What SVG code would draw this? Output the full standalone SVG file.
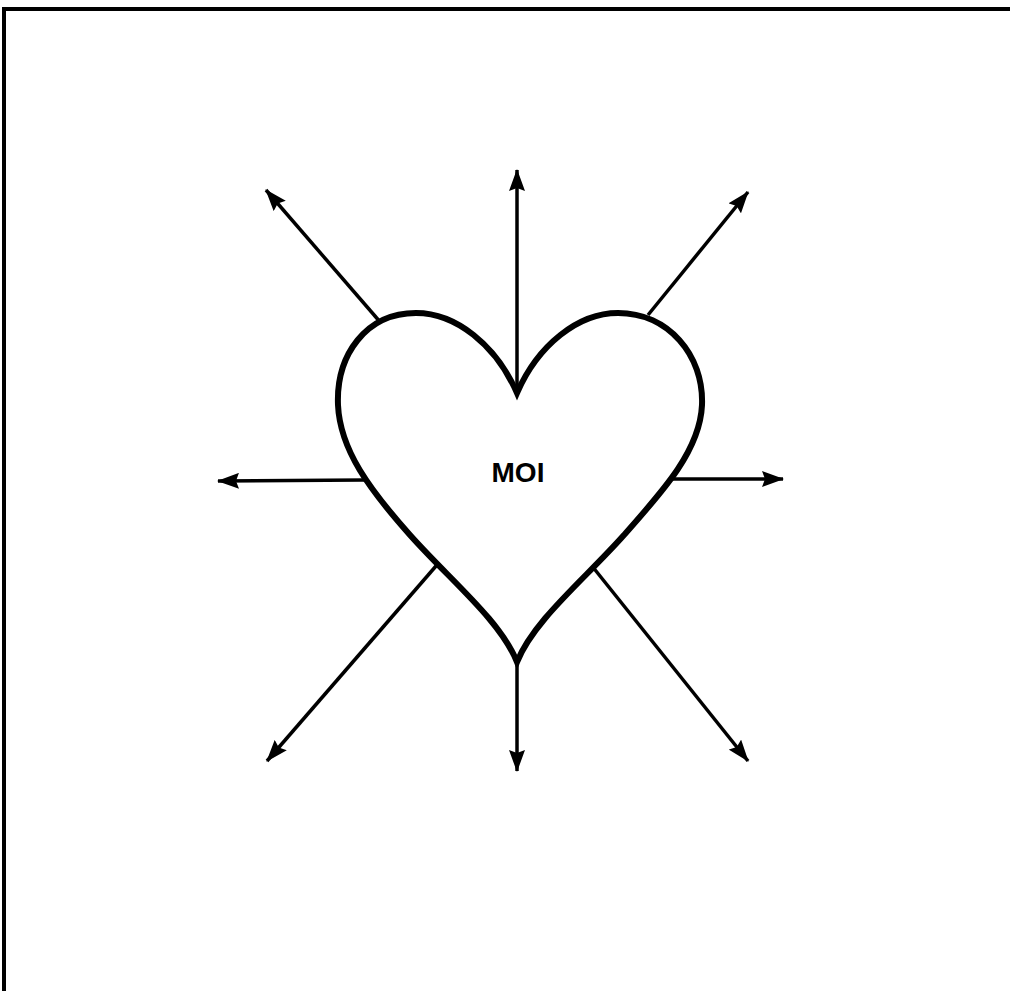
<svg xmlns="http://www.w3.org/2000/svg" width="1010" height="991" viewBox="0 0 1010 991">
<style>
.frame{fill:none;stroke:#000;stroke-width:4}
.heart{fill:#fff;stroke:#000;stroke-width:6;stroke-linejoin:miter}
.arr{stroke:#000;stroke-width:3.5;fill:none}
.lbl{font-family:"Liberation Sans",Arial,sans-serif;font-weight:bold;font-size:28px;fill:#000}
</style>
<defs>
<marker id="ah" viewBox="0 0 22 16" refX="21" refY="8" markerWidth="22" markerHeight="16" markerUnits="userSpaceOnUse" orient="auto">
<path d="M0,0 L22,8 L0,16 L3,8 Z" fill="#000"/>
</marker>
</defs>
<rect width="1010" height="991" fill="#fff"/>
<path class="frame" d="M4,991 L4,9 L1010,9"/>
<g id="connectors">
<line class="arr" x1="517" y1="393" x2="517" y2="170" marker-end="url(#ah)"/>
<line class="arr" x1="381" y1="323" x2="266" y2="190" marker-end="url(#ah)"/>
<line class="arr" x1="648" y1="315" x2="748" y2="192" marker-end="url(#ah)"/>
<line class="arr" x1="364" y1="480" x2="218" y2="481" marker-end="url(#ah)"/>
<line class="arr" x1="672" y1="479" x2="783" y2="479" marker-end="url(#ah)"/>
<line class="arr" x1="517" y1="662" x2="517" y2="771" marker-end="url(#ah)"/>
<line class="arr" x1="592" y1="566" x2="748" y2="761" marker-end="url(#ah)"/>
<line class="arr" x1="436" y1="566" x2="267" y2="761" marker-end="url(#ah)"/>
</g>
<g id="heart">
<path class="heart" d="M517,393 C496,345 456,313 416,313 C366,313 336,355 338,405 C340,450 370,490 410,535 C450,580 500,620 517,662 C534,620 584,580 624,535 C664,490 700,450 702,405 C704,355 668,313 618,313 C578,313 538,345 517,393 Z"/>
<text class="lbl" x="518" y="482" text-anchor="middle">MOI</text>
</g>
</svg>
